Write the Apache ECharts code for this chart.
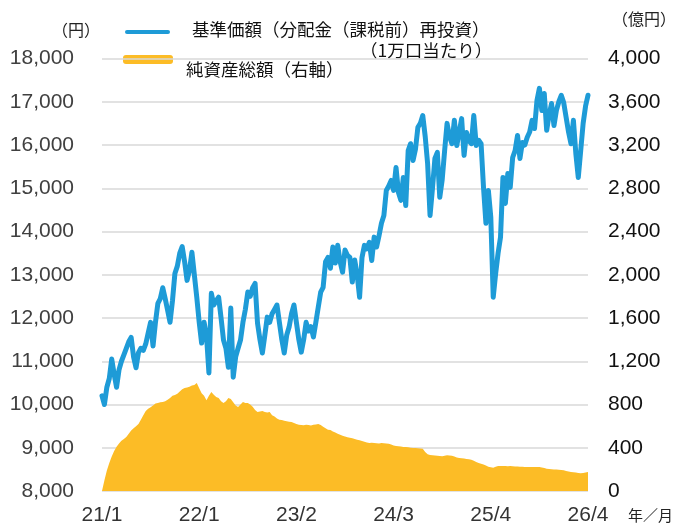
<!DOCTYPE html>
<html>
<head>
<meta charset="utf-8">
<script src="https://cdn.jsdelivr.net/npm/echarts@6/dist/echarts.min.js"></script>
<style>
  html, body { margin: 0; padding: 0; background: #fff; }
  #chart { width: 678px; height: 526px; }
</style>
</head>
<body>
<div id="chart"></div>
<script>
// x軸の目盛りラベル（40点ごと）
const tickLabels = ['21/1', '22/1', '23/2', '24/3', '25/4', '26/4'];

// 基準価額（分配金（課税前）再投資）円
const nav = [
  10200, 10000, 10400, 10600, 11050, 10700, 10400, 10800, 11000, 11150,
  11300, 11450, 11550, 11100, 10850, 11200, 11300, 11250, 11400, 11650,
  11900, 11350, 11900, 12340, 12450, 12700, 12450, 12180, 11900, 12400,
  13030, 13200, 13500, 13650, 13300, 12870, 13100, 13520, 13000, 12480,
  11900, 11420, 11900, 11600, 10730, 12570, 12300, 12400, 12480, 12000,
  11490, 11300, 10860, 12230, 10630, 11100, 11300, 11490, 11900, 12200,
  12600, 12500, 12700, 12800, 11880, 11500, 11190, 11600, 12020, 11900,
  12100, 12200, 12300, 11900, 11500, 11190, 11600, 11790, 12100, 12300,
  11900, 11500, 11210, 11500, 11900, 11700, 11800, 11560, 11900, 12250,
  12600, 12710, 13300, 13400, 13150, 13640, 13270, 13680, 13300, 13060,
  13570, 13450, 13400, 12830, 13340, 13000, 12480, 13400, 13680, 13600,
  13750, 13330, 13870, 13640, 13900, 14190, 14370, 14950, 15050, 15180,
  14950, 15480, 14900, 14720, 15250, 14600, 15870, 16030, 15640, 15900,
  16410, 16500, 16680, 16200, 15570, 14370, 15000, 15690, 15830, 14790,
  15200, 15870, 16500, 16200, 16030, 16570, 15990, 16300, 16610, 15760,
  16290, 16100, 16030, 16680, 15990, 16110, 16030, 15020, 14190, 14950,
  14330, 12480, 13030, 13500, 13870, 15250, 14650, 15340, 15020, 15710,
  15870, 16220, 15690, 16060, 16000, 16180, 16300, 16570, 16380, 17030,
  17310, 16800, 17190, 16340, 16700, 16960, 16450, 16800, 17000, 17150,
  16980, 16640, 16300, 16030, 16570, 15800, 15250, 15870, 16500, 16900,
  17150
];

// 純資産総額（右軸）億円
const assets = [
  0, 100, 190, 260, 320, 370, 410, 440, 465, 480,
  500, 530, 560, 580, 600, 620, 660, 700, 740, 760,
  775, 790, 810, 815, 820, 822, 830, 845, 860, 880,
  887, 900, 920, 940, 952, 958, 965, 975, 980, 998,
  950, 905, 880, 840, 880, 915, 890, 870, 860, 830,
  813, 830, 860, 850, 820, 790, 776, 800, 822, 815,
  813, 800, 780, 750, 730, 735, 740, 730, 725, 730,
  700, 690, 670, 660, 656, 650, 645, 640, 638, 630,
  620, 612, 610, 608, 612, 610, 606, 612, 616, 619,
  610, 595, 580, 567, 564, 550, 540, 530, 520, 510,
  505, 498, 492, 488, 480, 475, 470, 462, 455, 448,
  444, 446, 444, 442, 440, 444, 442, 440, 438, 430,
  420, 416, 414, 412, 408, 406, 404, 400, 398, 397,
  395, 392, 390, 360, 340, 333, 330, 328, 325, 323,
  322, 326, 330, 328, 325, 318, 310, 305, 304, 300,
  296, 294, 290, 280, 268, 259, 252, 244, 235, 225,
  220, 215, 225, 232, 231, 232, 231, 230, 231, 228,
  227, 226, 225, 224, 223, 222, 222, 222, 221, 222,
  222, 218, 212, 206, 203, 202, 200, 198, 196, 194,
  192, 186, 180, 176, 174, 170, 167, 165, 166, 172,
  176
];

const blue = '#1e9bd7';
const yellow = '#fcbc26';
const numFont = '"Liberation Sans", Arial, sans-serif';
const jpFont = '"Noto Sans CJK JP", sans-serif';

const categories = nav.map((_, i) => i);

const myChart = echarts.init(document.getElementById('chart'));

const option = {
  animation: false,
  backgroundColor: '#fff',
  grid: { left: 102, right: 90, top: 58.5, bottom: 35 },
  xAxis: {
    type: 'category',
    data: categories,
    boundaryGap: false,
    axisLine: { show: false },
    axisTick: { show: false },
    splitLine: { show: false },
    axisLabel: {
      interval: 39,
      margin: 14,
      fontSize: 21,
      fontFamily: numFont,
      color: '#333',
      formatter: (v, i) => tickLabels[i / 40]
    }
  },
  yAxis: [
    {
      type: 'value',
      min: 8000,
      max: 18000,
      interval: 1000,
      axisLine: { show: false },
      axisTick: { show: false },
      splitLine: { lineStyle: { color: '#d9d9d9', width: 1.5 } },
      axisLabel: {
        margin: 28,
        fontSize: 21,
        fontFamily: numFont,
        color: '#404040',
        formatter: v => v.toLocaleString('en-US')
      }
    },
    {
      type: 'value',
      min: 0,
      max: 4000,
      interval: 400,
      axisLine: { show: false },
      axisTick: { show: false },
      splitLine: { show: false },
      axisLabel: {
        margin: 20,
        fontSize: 21,
        fontFamily: numFont,
        color: '#111',
        formatter: v => v.toLocaleString('en-US')
      }
    }
  ],
  series: [
    {
      name: '純資産総額（右軸）',
      type: 'line',
      yAxisIndex: 1,
      data: assets,
      symbol: 'none',
      lineStyle: { width: 0 },
      areaStyle: { color: yellow, opacity: 1 },
      z: 2
    },
    {
      name: '基準価額（分配金（課税前）再投資）',
      type: 'line',
      yAxisIndex: 0,
      data: nav,
      symbol: 'none',
      lineStyle: { color: blue, width: 5, join: 'round', cap: 'round' },
      z: 3
    }
  ],
  graphic: [
    // 単位
    { type: 'text', left: 52, top: 22, style: { text: '（円）', fontSize: 16, fontFamily: jpFont, fill: '#222' } },
    { type: 'text', right: 2, top: 11, style: { text: '（億円）', fontSize: 16, fontFamily: jpFont, fill: '#222' } },
    { type: 'text', left: 628, top: 508, style: { text: '年／月', fontSize: 15, fontFamily: jpFont, fill: '#222' } },
    // 凡例
    { type: 'line', shape: { x1: 127, y1: 32, x2: 168, y2: 32 }, style: { stroke: blue, lineWidth: 4, lineCap: 'round' } },
    { type: 'rect', shape: { x: 123, y: 55, width: 50, height: 9, r: 3 }, style: { fill: yellow } },
    { type: 'text', left: 192, top: 21, style: { text: '基準価額（分配金（課税前）再投資）', fontSize: 17.5, fontFamily: jpFont, fill: '#111' } },
    { type: 'text', left: 360, top: 42, style: { text: '（1万口当たり）', fontSize: 17.5, fontFamily: jpFont, fill: '#111' } },
    { type: 'text', left: 186, top: 61, style: { text: '純資産総額（右軸）', fontSize: 17.5, fontFamily: jpFont, fill: '#111' } }
  ]
};

myChart.setOption(option);
</script>
</body>
</html>
